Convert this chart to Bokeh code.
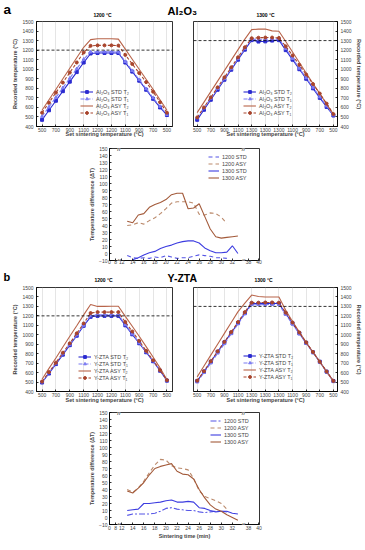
import math
from bokeh.plotting import figure
from bokeh.models import (Range1d, FixedTicker, Label, Legend, LegendItem, Span,
                          Spacer, ColumnDataSource)
from bokeh.layouts import column, row
from bokeh.embed import file_html
from bokeh.resources import INLINE

# ---------------- data ----------------
POS_1200 = [0, 0.5, 1, 1.5, 2, 2.5, 3, 3.5, 4, 4.5, 5, 5.5, 6, 6.5, 7, 7.5, 8, 8.5, 9]
POS_1300 = [0, 0.5, 1, 1.5, 2, 2.5, 3, 3.5, 4, 4.5, 5, 5.5, 6, 6.5, 7, 7.5, 8, 8.5, 9, 9.5, 10]
TICKS_1200 = [0, 1, 2, 3, 4, 5, 6, 7, 8, 9]
TICKS_1300 = [0, 1, 2, 3, 4, 5, 6, 7, 8, 9, 10]
TICK_LABELS_1200 = ["500", "700", "900", "1100", "1200", "1200", "1100", "900", "700", "500"]
TICK_LABELS_1300 = ["500", "700", "900", "1100", "1300", "1300", "1300", "1100", "900", "700", "500"]
Y_TICKS = [400, 500, 600, 700, 800, 900, 1000, 1100, 1200, 1300, 1400, 1500]
SET_1200 = 1200
SET_1300 = 1300

AL_1200_STD_T2 = [470, 570, 670, 770, 870, 970, 1070, 1165, 1170, 1170, 1170, 1170, 1070, 975, 880, 785, 690, 600, 520]
AL_1200_STD_T1 = [505, 605, 705, 805, 905, 1005, 1105, 1180, 1182, 1182, 1182, 1180, 1080, 985, 890, 795, 700, 610, 525]
AL_1200_ASY_T2 = [570, 680, 790, 900, 1010, 1120, 1230, 1310, 1320, 1320, 1320, 1315, 1210, 1105, 1000, 895, 790, 680, 570]
AL_1200_ASY_T1 = [545, 650, 755, 860, 965, 1070, 1175, 1245, 1250, 1250, 1250, 1248, 1150, 1055, 960, 865, 765, 655, 545]

AL_1300_STD_T2 = [470, 575, 680, 785, 890, 995, 1100, 1205, 1305, 1290, 1292, 1300, 1305, 1200, 1100, 1000, 900, 800, 700, 605, 515]
AL_1300_STD_T1 = [490, 592, 695, 798, 900, 1005, 1110, 1215, 1315, 1312, 1315, 1318, 1318, 1215, 1112, 1010, 910, 810, 710, 615, 520]
AL_1300_ASY_T2 = [545, 655, 765, 875, 985, 1095, 1205, 1315, 1415, 1420, 1422, 1402, 1398, 1290, 1180, 1070, 960, 850, 745, 635, 530]
AL_1300_ASY_T1 = [495, 600, 705, 810, 915, 1020, 1125, 1230, 1325, 1330, 1332, 1332, 1328, 1240, 1145, 1045, 945, 845, 745, 640, 530]

YZ_1200_STD_T2 = [495, 590, 690, 790, 890, 990, 1095, 1190, 1200, 1200, 1200, 1200, 1100, 1005, 910, 815, 720, 620, 515]
YZ_1200_STD_T1 = [500, 598, 698, 798, 898, 998, 1100, 1200, 1210, 1210, 1210, 1208, 1108, 1010, 915, 820, 725, 625, 518]
YZ_1200_ASY_T2 = [530, 645, 755, 870, 985, 1095, 1210, 1320, 1300, 1300, 1302, 1302, 1195, 1090, 985, 875, 765, 650, 525]
YZ_1200_ASY_T1 = [505, 605, 705, 810, 910, 1015, 1120, 1230, 1240, 1240, 1240, 1240, 1135, 1035, 935, 830, 730, 625, 520]

YZ_1300_STD_T2 = [510, 610, 715, 820, 920, 1020, 1125, 1230, 1330, 1330, 1332, 1332, 1330, 1225, 1120, 1015, 915, 815, 715, 610, 510]
YZ_1300_STD_T1 = [500, 600, 700, 805, 905, 1010, 1115, 1220, 1318, 1318, 1320, 1320, 1318, 1215, 1112, 1010, 910, 810, 710, 608, 508]
YZ_1300_ASY_T2 = [555, 670, 785, 900, 1015, 1130, 1245, 1335, 1420, 1405, 1400, 1400, 1400, 1260, 1140, 1030, 920, 815, 715, 610, 510]
YZ_1300_ASY_T1 = [515, 615, 720, 825, 925, 1030, 1135, 1240, 1340, 1340, 1342, 1342, 1340, 1235, 1130, 1025, 920, 818, 715, 612, 512]

TIME_13_31 = [13, 14, 15, 16, 17, 18, 19, 20, 21, 22, 23, 24, 25, 26, 27, 28, 29, 30, 31]
TIME_13_33 = [13, 14, 15, 16, 17, 18, 19, 20, 21, 22, 23, 24, 25, 26, 27, 28, 29, 30, 31, 32, 33]
TIME_14_33 = [14, 15, 16, 17, 18, 19, 20, 21, 22, 23, 24, 25, 26, 27, 28, 29, 30, 31, 32, 33]

DA_1200_STD = [-3, -6, -7, -6, -7, -5, -6, -3, -5, -7, -6, -6, -4, -2, -3, -4, -6, -6, -7]
DA_1200_ASY = [40, 41, 44, 42, 47, 51, 57, 64, 72, 74, 74, 74, 72, 56, 55, 58, 57, 52, 43]
DA_1300_STD = [-9, -6, -2, 1, 3, 7, 10, 12, 15, 17, 18, 18, 15, 8, 4, 1, 1, 2, 11, 0]
DA_1300_ASY = [46, 44, 55, 57, 66, 70, 73, 77, 84, 86, 86, 64, 65, 71, 53, 35, 24, 22, 23, 24, 25]

DB_1200_STD = [3, 5, 5, 5, 5, 6, 9, 13, 14, 12, 11, 10, 10, 8, 7, 8, 9, 9, 8]
DB_1200_ASY = [40, 36, 42, 52, 64, 75, 83, 82, 74, 71, 70, 68, 56, 38, 30, 27, 24, 20, 12]
DB_1300_STD = [10, 11, 12, 20, 20, 21, 22, 24, 25, 22, 22, 23, 22, 14, 13, 10, 8, 9, 9, 6, 5]
DB_1300_ASY = [38, 35, 42, 50, 61, 70, 73, 75, 77, 66, 62, 61, 55, 40, 28, 18, 12, 9, 4, 0, -4]

# broken time axis: display positions of the tick labels
DELTA_TICKS = [9.8, 10.9, 12, 14, 16, 18, 20, 22, 24, 26, 28, 30, 32, 34.9, 36.8]
DELTA_TICK_LABELS = ["0", "8", "12", "14", "16", "18", "20", "22", "24", "26", "28", "30", "32", "38", "40"]
DELTA_BREAKS = [11.5, 34.0]
DELTA_Y_TICKS = [-10, 0, 10, 20, 30, 40, 50, 60, 70, 80, 90, 100, 110, 120, 130, 140, 150]

# ---------------- style ----------------
FONT = "Liberation Sans"
PAGE_W = 365
C_STD_T2 = "#2b2bd0"
C_STD_T1 = "#7b7bf2"
C_ASY_T2 = "#b8644a"
C_ASY_T1 = "#a8442c"
C_D1200_STD = "#5555e6"
C_D1200_ASY = "#bb8a6c"
C_D1300_STD = "#3d3de0"
C_D1300_ASY = "#a35a3a"


def header(y0, height, items):
    p = figure(width=PAGE_W, height=height, x_range=Range1d(0, PAGE_W),
               y_range=Range1d(y0 + height, y0), output_backend="svg",
               toolbar_location=None, min_border=0, x_axis_location=None,
               y_axis_location=None)
    p.outline_line_color = None
    p.grid.visible = False
    for (txt, x, y, size, align) in items:
        p.add_layout(Label(x=x, y=y, text=txt, text_font=FONT, text_font_size=size,
                           text_font_style="bold", text_align=align,
                           text_baseline="middle", text_color="black"))
    return p


def fig(w, h, xr, yr, b, **kw):
    p = figure(width=w, height=h, x_range=Range1d(*xr), y_range=Range1d(*yr),
               output_backend="svg", toolbar_location=None,
               min_border_left=b[0], min_border_right=b[1], min_border_top=b[2],
               min_border_bottom=b[3], **kw)
    p.outline_line_color = "black"
    p.outline_line_width = 0.8
    return p


def style_axis(ax, title, tick_standoff, title_standoff):
    ax.axis_label = title
    ax.axis_label_text_font = FONT
    ax.axis_label_text_font_size = "5.5px"
    ax.axis_label_text_font_style = "bold"
    ax.axis_label_standoff = title_standoff
    ax.major_label_text_font = FONT
    ax.major_label_text_font_size = "5px"
    ax.major_label_standoff = tick_standoff
    ax.major_tick_out = 0
    ax.major_tick_in = 2
    ax.minor_tick_line_color = None
    ax.axis_line_width = 0.8
    ax.major_tick_line_width = 0.8


def main_chart(w, h, xr, b, pos, series, ticks, tick_labels, set_temp, y_right, legend_xy,
               x_std):
    p = fig(w, h, xr, (400, 1500), b, y_axis_location="right" if y_right else "left")
    p.xaxis.ticker = FixedTicker(ticks=ticks)
    p.xaxis.major_label_overrides = {t: l for t, l in zip(ticks, tick_labels)}
    p.yaxis.ticker = FixedTicker(ticks=Y_TICKS)
    style_axis(p.xaxis[0], "Set sintering temperature (\u00b0C)", 1, x_std)
    style_axis(p.yaxis[0], "Recorded temperature (\u00b0C)", 3, 1)
    p.xgrid.ticker = FixedTicker(ticks=ticks)
    p.xgrid.grid_line_color = "#d4d4d4"
    p.xgrid.grid_line_width = 0.6
    p.ygrid.visible = False
    p.add_layout(Span(location=set_temp, dimension="width", line_color="black",
                      line_dash="3 2", line_width=0.8))
    items = []
    for (lab, vals, color, dash, marker) in series:
        src = ColumnDataSource(dict(x=pos, y=vals))
        rs = [p.line("x", "y", source=src, line_color=color, line_width=1.1, line_dash=dash)]
        if marker:
            rs.append(p.scatter("x", "y", source=src, marker=marker, size=3,
                                fill_color=color, line_color=color))
        items.append(LegendItem(label=lab, renderers=rs))
    leg = Legend(items=items, location=legend_xy, border_line_color=None,
                 background_fill_alpha=0, label_text_font=FONT, label_text_font_size="5.5px",
                 glyph_width=13, glyph_height=7, label_height=7, label_standoff=3,
                 spacing=0, padding=0, margin=0)
    p.add_layout(leg)
    return p


def delta_chart(w, h, b, series, xtitle, legend_xy, x_tick_std, x_std):
    p = fig(w, h, (9.8, 36.9), (-10, 150), b)
    p.grid.visible = False
    p.xaxis.ticker = FixedTicker(ticks=DELTA_TICKS)
    p.xaxis.major_label_overrides = {t: l for t, l in zip(DELTA_TICKS, DELTA_TICK_LABELS)}
    p.yaxis.ticker = FixedTicker(ticks=DELTA_Y_TICKS)
    style_axis(p.xaxis[0], xtitle, x_tick_std, x_std)
    style_axis(p.yaxis[0], "Temperature difference (\u0394T)", 2, 1)
    items = []
    for (lab, t, vals, color, dash) in series:
        r = p.line(t, vals, line_color=color, line_width=1.1, line_dash=dash)
        items.append(LegendItem(label=lab, renderers=[r]))
    for bx in DELTA_BREAKS:
        for yy in (150, -10):
            p.add_layout(Label(x=bx, y=yy, text="//", text_font=FONT, text_font_size="6px",
                               text_align="center", text_baseline="middle",
                               background_fill_color="white", text_color="black"))
    leg = Legend(items=items, location=legend_xy, border_line_color=None,
                 background_fill_alpha=0, label_text_font=FONT, label_text_font_size="5.5px",
                 glyph_width=11, glyph_height=7, label_height=7, label_standoff=3,
                 spacing=0, padding=0, margin=0)
    p.add_layout(leg)
    return p


def series4(nm, std2, std1, asy2, asy1):
    return [
        (nm + " STD T\u2082", std2, C_STD_T2, "solid", "square"),
        (nm + " STD T\u2081", std1, C_STD_T1, "4 2", "triangle"),
        (nm + " ASY T\u2082", asy2, C_ASY_T2, "solid", None),
        (nm + " ASY T\u2081", asy1, C_ASY_T1, "3 2", "circle"),
    ]


AL = "Al\u2082O\u2083"
YZ = "Y-ZTA"
XR_1200 = (-0.4, 9.4)
XR_1300 = (-0.27, 10.3)

# ---- panel a ----
head_a = header(0, 18, [
    ("a", 3, 8.6, "13.5px", "left"),
    ("1200 \u00b0C", 102, 14.5, "5px", "center"),
    (AL, 167, 10.2, "11px", "left"),
    ("1300 \u00b0C", 265, 14.5, "5px", "center"),
])
a_left = main_chart(173, 127, XR_1200, (36, 1, 3, 19), POS_1200,
                    series4(AL, AL_1200_STD_T2, AL_1200_STD_T1, AL_1200_ASY_T2, AL_1200_ASY_T1),
                    TICKS_1200, TICK_LABELS_1200, SET_1200, False, (44, 10), -4)
a_right = main_chart(192, 127, XR_1300, (20, 28, 3, 19), POS_1300,
                     series4(AL, AL_1300_STD_T2, AL_1300_STD_T1, AL_1300_ASY_T2, AL_1300_ASY_T1),
                     TICKS_1300, TICK_LABELS_1300, SET_1300, True, (50, 10), -4)
a_delta = delta_chart(189, 125, (29, 10, 3, 10),
                      [("1200 STD", TIME_13_31, DA_1200_STD, C_D1200_STD, "4 3"),
                       ("1200 ASY", TIME_13_31, DA_1200_ASY, C_D1200_ASY, "4 3"),
                       ("1300 STD", TIME_14_33, DA_1300_STD, C_D1300_STD, "solid"),
                       ("1300 ASY", TIME_13_33, DA_1300_ASY, C_D1300_ASY, "solid")],
                      None, (99, 79), -1, 0)

# ---- panel b ----
head_b = header(270, 14, [
    ("b", 3, 276.8, "11px", "left"),
    ("1200 \u00b0C", 103, 279, "5px", "center"),
    (YZ, 167, 277.2, "10.5px", "left"),
    ("1300 \u00b0C", 263, 279, "5px", "center"),
])
b_left = main_chart(173, 126, XR_1200, (36, 1, 3, 19), POS_1200,
                    series4(YZ, YZ_1200_STD_T2, YZ_1200_STD_T1, YZ_1200_ASY_T2, YZ_1200_ASY_T1),
                    TICKS_1200, TICK_LABELS_1200, SET_1200, False, (42, 10), -3)
b_right = main_chart(192, 126, XR_1300, (20, 28, 3, 19), POS_1300,
                     series4(YZ, YZ_1300_STD_T2, YZ_1300_STD_T1, YZ_1300_ASY_T2, YZ_1300_ASY_T1),
                     TICKS_1300, TICK_LABELS_1300, SET_1300, True, (50, 11), -3)
b_delta = delta_chart(189, 140, (29, 10, 2, 26),
                      [("1200 STD", TIME_13_31, DB_1200_STD, C_D1200_STD, "6 2 2 2"),
                       ("1200 ASY", TIME_13_31, DB_1200_ASY, C_D1200_ASY, "4 3"),
                       ("1300 STD", TIME_13_33, DB_1300_STD, C_D1300_STD, "solid"),
                       ("1300 ASY", TIME_13_33, DB_1300_ASY, C_D1300_ASY, "solid")],
                      "Sintering time (min)", (101, 79), 1, 0)

layout = column(
    head_a,
    row(a_left, a_right),
    row(Spacer(width=80, height=125), a_delta),
    head_b,
    row(b_left, b_right),
    row(Spacer(width=80, height=140), b_delta),
)
open("out.html", "w").write(file_html(layout, INLINE))
